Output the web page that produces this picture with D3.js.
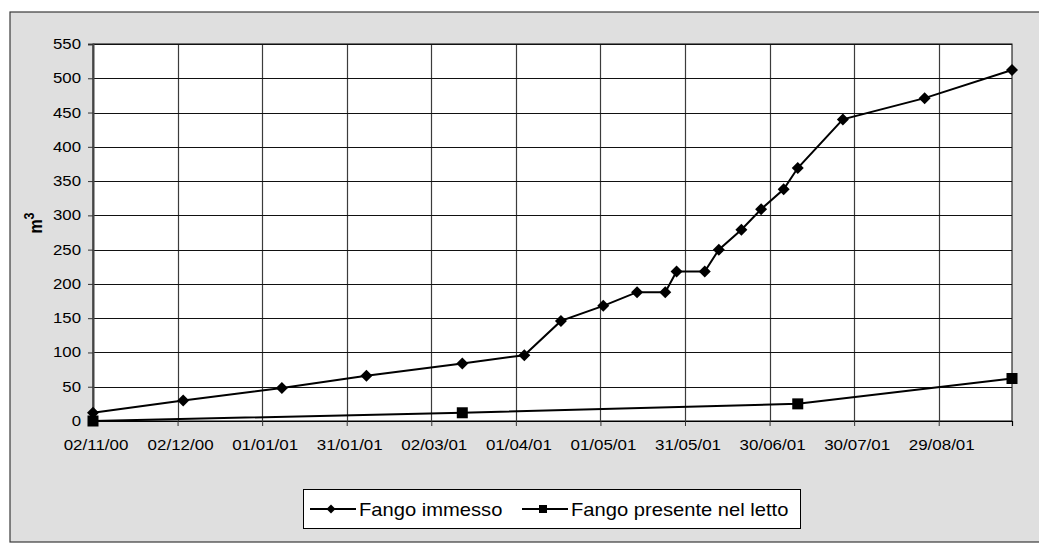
<!DOCTYPE html>
<html>
<head>
<meta charset="utf-8">
<script src="https://cdn.jsdelivr.net/npm/d3@7"></script>
<style>
  html, body { margin: 0; padding: 0; background: #ffffff; }
  svg { display: block; font-family: "Liberation Sans", Arial, sans-serif; }
</style>
</head>
<body>
<svg id="chart" width="1039" height="543"></svg>
<script>
// ---- data ----
const immessoDates = ["02/11/00","04/12/00","08/01/01","07/02/01","13/03/01","04/04/01","17/04/01","02/05/01","14/05/01","24/05/01","28/05/01","07/06/01","12/06/01","20/06/01","27/06/01","05/07/01","10/07/01","26/07/01","24/08/01","24/09/01"];
const immessoValues = [12, 30, 48, 66, 84, 96, 146, 168, 188, 188, 218, 218, 250, 279, 309, 338, 369, 440, 471, 512];
const presenteDates = ["02/11/00","13/03/01","10/07/01","24/09/01"];
const presenteValues = [0, 12, 25, 62];
const xTickLabels = ["02/11/00","02/12/00","01/01/01","31/01/01","02/03/01","01/04/01","01/05/01","31/05/01","30/06/01","30/07/01","29/08/01"];
const yTicks = [0, 50, 100, 150, 200, 250, 300, 350, 400, 450, 500, 550];
const seriesNames = ["Fango immesso", "Fango presente nel letto"];
const yLabel = "m";
const yLabelSup = "3";

// ---- setup ----
const parse = d3.utcParse("%d/%m/%y");
const fmt = d3.utcFormat("%d/%m/%y");
const svg = d3.select("#chart");
const W = 1039, H = 543;
const plot = {left: 93, top: 44, right: 1012, bottom: 421};

// outer chart area
svg.append("rect")
  .attr("x", 10).attr("y", 12)
  .attr("width", W + 10).attr("height", H - 12 - 1)
  .attr("fill", "#dfdfdf").attr("stroke", "#3a3a3a").attr("stroke-width", 1.2);

// plot area
svg.append("rect")
  .attr("x", plot.left).attr("y", plot.top)
  .attr("width", plot.right - plot.left).attr("height", plot.bottom - plot.top)
  .attr("fill", "#ffffff").attr("stroke", "#000").attr("stroke-width", 1);

const xDomainStart = parse(immessoDates[0]);
const xDomainEnd = parse(immessoDates[immessoDates.length - 1]);
const x = d3.scaleUtc().domain([xDomainStart, xDomainEnd]).range([plot.left, plot.right]);
const y = d3.scaleLinear().domain([0, 550]).range([plot.bottom, plot.top]);

const xTickDates = xTickLabels.map(parse);

// gridlines
svg.append("g").selectAll("line.vg").data(xTickDates.slice(1)).join("line")
  .attr("x1", d => Math.round(x(d)) + 0.5).attr("x2", d => Math.round(x(d)) + 0.5)
  .attr("y1", plot.top).attr("y2", plot.bottom)
  .attr("stroke", "#3c3c3c").attr("stroke-width", 1.2);
svg.append("g").selectAll("line.hg").data(yTicks.slice(1)).join("line")
  .attr("x1", plot.left).attr("x2", plot.right)
  .attr("y1", d => Math.round(y(d)) + 0.5).attr("y2", d => Math.round(y(d)) + 0.5)
  .attr("stroke", "#111").attr("stroke-width", 1);

// axes
const sxY = 1.2, sxX = 1.13;
const yAxis = svg.append("g")
  .attr("transform", `translate(${plot.left},0)`)
  .call(d3.axisLeft(y).tickValues(yTicks).tickSize(5).tickPadding(7));
yAxis.select(".domain").attr("stroke", "#444").attr("stroke-width", 2);
yAxis.selectAll(".tick line").attr("stroke", "#333");
yAxis.selectAll("text")
  .attr("font-size", 14).attr("fill", "#000")
  .attr("x", -12 / sxY)
  .attr("transform", `scale(${sxY},1)`);

const xAxis = svg.append("g")
  .attr("transform", `translate(0,${plot.bottom})`)
  .call(d3.axisBottom(x).tickValues(xTickDates).tickFormat(fmt).tickSize(5).tickPadding(7));
xAxis.select(".domain").attr("stroke", "#000").attr("stroke-width", 1.2);
xAxis.selectAll(".tick line").attr("stroke", "#333");
xAxis.selectAll("text")
  .attr("font-size", 15).attr("fill", "#000")
  .attr("x", 2.5 / sxX)
  .attr("y", 29).attr("dy", "0")
  .attr("transform", `scale(${sxX},1)`);

// y label
const yl = svg.append("text")
  .attr("transform", `translate(41.5,223) scale(1.2,1) rotate(-90)`)
  .attr("text-anchor", "middle")
  .attr("font-size", 16).attr("font-weight", "bold").attr("fill", "#000");
yl.append("tspan").text(yLabel);
yl.append("tspan").attr("font-size", 12.5).attr("dy", -6).text(yLabelSup);

// series
const s1 = immessoDates.map((d, i) => ({date: parse(d), value: immessoValues[i]}));
const s2 = presenteDates.map((d, i) => ({date: parse(d), value: presenteValues[i]}));
const line = d3.line().x(d => x(d.date)).y(d => y(d.value));

svg.append("path").datum(s2).attr("d", line)
  .attr("fill", "none").attr("stroke", "#000").attr("stroke-width", 2);
svg.append("path").datum(s1).attr("d", line)
  .attr("fill", "none").attr("stroke", "#000").attr("stroke-width", 2);

const diamond = r => `M0,${-r}L${r},0L0,${r}L${-r},0Z`;
svg.append("g").selectAll("path").data(s1).join("path")
  .attr("d", diamond(6))
  .attr("transform", d => `translate(${x(d.date)},${y(d.value)})`)
  .attr("fill", "#000");
svg.append("g").selectAll("rect").data(s2).join("rect")
  .attr("x", d => x(d.date) - 5.5).attr("y", d => y(d.value) - 5.5)
  .attr("width", 11).attr("height", 11)
  .attr("fill", "#000");

// legend
const lg = svg.append("g");
lg.append("rect").attr("x", 303.5).attr("y", 489.5).attr("width", 497).attr("height", 39)
  .attr("fill", "#fff").attr("stroke", "#000").attr("stroke-width", 1);
const legendItems = [
  {name: seriesNames[0], x0: 310, marker: "diamond"},
  {name: seriesNames[1], x0: 522, marker: "square"}
];
legendItems.forEach(it => {
  const cy = 509;
  lg.append("line").attr("x1", it.x0).attr("x2", it.x0 + 46).attr("y1", cy).attr("y2", cy)
    .attr("stroke", "#000").attr("stroke-width", 2);
  if (it.marker === "diamond") {
    lg.append("path").attr("d", diamond(4.5)).attr("transform", `translate(${it.x0 + 21},${cy})`).attr("fill", "#000");
  } else {
    lg.append("rect").attr("x", it.x0 + 21 - 4).attr("y", cy - 4).attr("width", 8).attr("height", 8).attr("fill", "#000");
  }
  lg.append("text")
    .attr("transform", `translate(${it.x0 + 49},${cy + 6.5}) scale(1.12,1)`)
    .attr("font-size", 18).attr("fill", "#000")
    .text(it.name);
});
</script>
</body>
</html>
